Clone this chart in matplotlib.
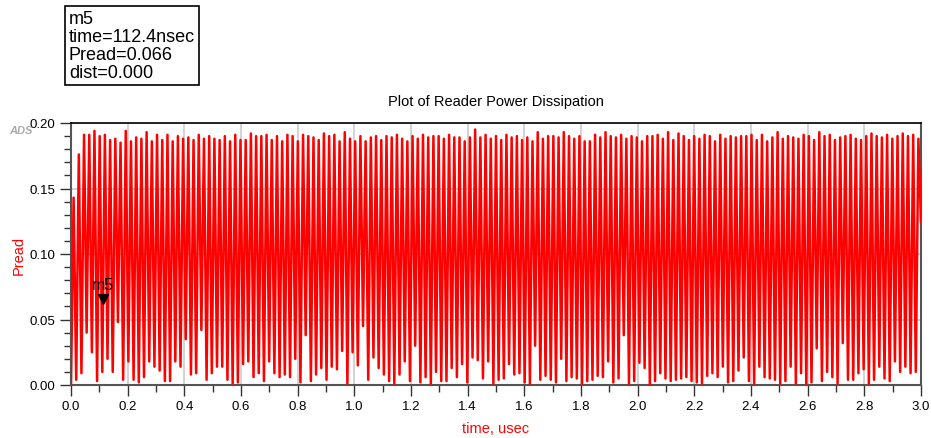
import numpy as np
import matplotlib.pyplot as plt
from matplotlib.ticker import MultipleLocator, FormatStrFormatter

# Peak / trough values of Pread per carrier cycle
peaks = [
    0.143, 0.176, 0.191, 0.191, 0.194, 0.190, 0.191, 0.187, 0.188, 0.185, 0.194, 0.186,
    0.189, 0.188, 0.193, 0.186, 0.191, 0.187, 0.191, 0.186, 0.190, 0.188, 0.189,
    0.187, 0.191, 0.188, 0.190, 0.188, 0.187, 0.190, 0.186, 0.191, 0.187, 0.187, 0.192,
    0.190, 0.190, 0.191, 0.187, 0.190, 0.186, 0.191, 0.190, 0.186, 0.191, 0.190,
    0.189, 0.187, 0.192, 0.190, 0.191, 0.186, 0.193, 0.188, 0.186, 0.190, 0.186, 0.189,
    0.190, 0.187, 0.190, 0.189, 0.191, 0.188, 0.186, 0.190, 0.188, 0.191, 0.189,
    0.190, 0.190, 0.188, 0.191, 0.189, 0.189, 0.186, 0.189, 0.195, 0.189, 0.191, 0.188,
    0.190, 0.187, 0.191, 0.189, 0.190, 0.187, 0.189, 0.186, 0.193, 0.188, 0.190,
    0.190, 0.189, 0.193, 0.190, 0.188, 0.190, 0.186, 0.186, 0.191, 0.189, 0.193, 0.190,
    0.189, 0.191, 0.188, 0.190, 0.189, 0.186, 0.190, 0.190, 0.191, 0.188, 0.193,
    0.187, 0.192, 0.190, 0.187, 0.190, 0.188, 0.191, 0.190, 0.186, 0.191, 0.188, 0.190,
    0.189, 0.190, 0.190, 0.191, 0.187, 0.191, 0.186, 0.189, 0.193, 0.188, 0.190,
    0.189, 0.188, 0.191, 0.190, 0.187, 0.193, 0.190, 0.191, 0.187, 0.189, 0.190, 0.191,
    0.188, 0.187, 0.190, 0.192, 0.190, 0.189, 0.191, 0.188, 0.190, 0.192, 0.190, 0.191, 0.188,
]
troughs = [
    0.004, 0.009, 0.040, 0.025, 0.003, 0.010, 0.020, 0.010, 0.048, 0.004, 0.018, 0.004,
    0.002, 0.006, 0.018, 0.014, 0.011, 0.003, 0.003, 0.018, 0.014, 0.035, 0.008,
    0.009, 0.042, 0.004, 0.009, 0.014, 0.014, 0.004, 0.001, 0.002, 0.016, 0.018, 0.006,
    0.009, 0.003, 0.018, 0.009, 0.006, 0.008, 0.006, 0.020, 0.002, 0.038, 0.003,
    0.008, 0.013, 0.004, 0.014, 0.012, 0.026, 0.001, 0.025, 0.015, 0.045, 0.004, 0.021,
    0.013, 0.008, 0.003, 0.001, 0.008, 0.018, 0.003, 0.030, 0.002, 0.006, 0.001,
    0.010, 0.003, 0.003, 0.013, 0.006, 0.016, 0.002, 0.021, 0.019, 0.005, 0.018, 0.001,
    0.004, 0.005, 0.016, 0.008, 0.009, 0.002, 0.001, 0.030, 0.004, 0.007, 0.004,
    0.002, 0.020, 0.003, 0.006, 0.005, 0.001, 0.003, 0.004, 0.007, 0.006, 0.018, 0.002,
    0.005, 0.038, 0.001, 0.003, 0.017, 0.013, 0.000, 0.003, 0.009, 0.005, 0.003,
    0.004, 0.005, 0.006, 0.003, 0.002, 0.001, 0.007, 0.009, 0.006, 0.014, 0.002, 0.003,
    0.011, 0.021, 0.003, 0.001, 0.014, 0.006, 0.005, 0.004, 0.001, 0.003, 0.014,
    0.001, 0.009, 0.001, 0.002, 0.028, 0.003, 0.010, 0.006, 0.001, 0.032, 0.004, 0.004,
    0.009, 0.012, 0.001, 0.004, 0.014, 0.005, 0.003, 0.018, 0.010, 0.014, 0.009, 0.010, 0.125,
]
t_start, t_stop = 0.0, 3.0

# marker m5 readout
marker_name = "m5"
marker_t = 0.1124
marker_val = 0.066

pread = [0.0]
for p, tr in zip(peaks, troughs):
    pread += [p, tr]
time = np.linspace(t_start, t_stop, len(pread))

plt.rcParams["font.family"] = ["Liberation Sans", "DejaVu Sans"]

fig = plt.figure(figsize=(9.31, 4.39), dpi=100)
ax = fig.add_axes([71 / 931, 1 - 386 / 439, 850 / 931, 262 / 439])

ax.plot(time, pread, color="red", linewidth=1.8, zorder=3)
ax.set_xlim(0, 3.0)
ax.set_ylim(0, 0.20)

ax.xaxis.set_major_locator(MultipleLocator(0.2))
ax.xaxis.set_minor_locator(MultipleLocator(0.1))
ax.yaxis.set_major_locator(MultipleLocator(0.05))
ax.yaxis.set_minor_locator(MultipleLocator(0.01))
ax.xaxis.set_major_formatter(FormatStrFormatter("%.1f"))
ax.yaxis.set_major_formatter(FormatStrFormatter("%.2f"))
ax.tick_params(which="major", direction="out", length=8, width=1, color="#333333",
               labelsize=9.5, pad=3)
ax.tick_params(which="minor", direction="out", length=5, width=1, color="#333333")

ax.grid(True, which="major", color="#cccccc", linewidth=1.2)
ax.set_axisbelow(True)
ax.spines["top"].set_color("black")
ax.spines["top"].set_linewidth(1.2)
for s in ("left", "bottom", "right"):
    ax.spines[s].set_color("#555555")
    ax.spines[s].set_linewidth(1.5)

ax.set_xlabel("time, usec", color="red", fontsize=10.5, labelpad=6)
ax.set_ylabel("Pread", color="red", fontsize=10.5, labelpad=3)
ax.set_title("Plot of Reader Power Dissipation", fontsize=10.5, pad=13)

# marker
ax.plot([marker_t], [marker_val], marker="v", color="black", markersize=7, zorder=5)
ax.annotate(marker_name, (marker_t, marker_val), xytext=(0, 5), textcoords="offset points",
            ha="center", va="bottom", fontsize=11.5, zorder=5)

# marker readout box
fig.text(69 / 931, 1 - 11 / 439,
         f"{marker_name}\ntime={marker_t * 1000:.1f}nsec\nPread={marker_val:.3f}\ndist=0.000",
         ha="left", va="top", fontsize=13, linespacing=1.08,
         bbox=dict(boxstyle="square,pad=0.2", fc="white", ec="black", lw=1.2))

fig.text(9 / 931, 1 - 131 / 439, "ADS", color="#aaaaaa", fontsize=8, style="italic",
         weight="bold", ha="left", va="center")

fig.savefig("out.png", dpi=100)
